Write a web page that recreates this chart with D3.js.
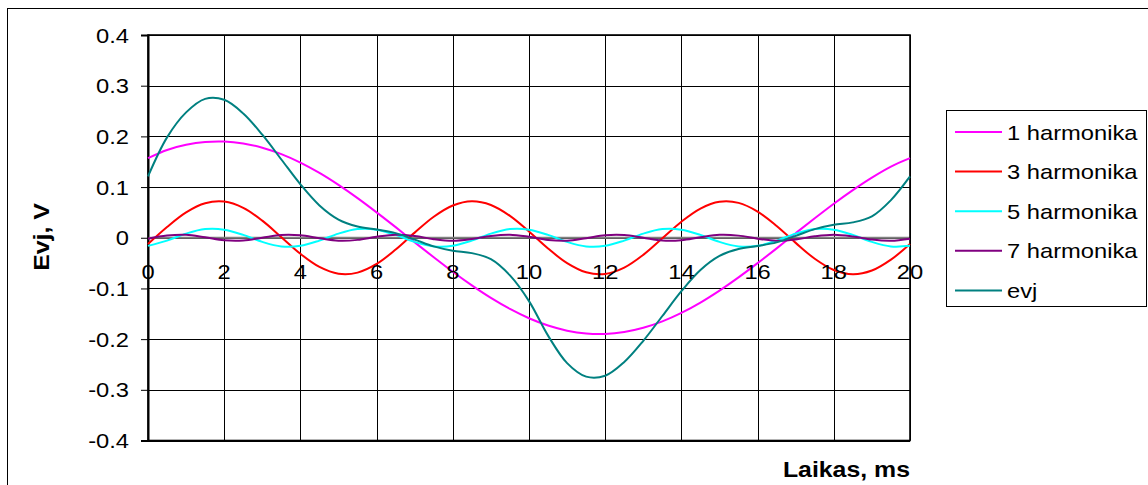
<!DOCTYPE html>
<html>
<head>
<meta charset="utf-8">
<script src="https://cdn.jsdelivr.net/npm/d3@7/dist/d3.min.js"></script>
<style>
  html, body { margin: 0; padding: 0; background: #fff; }
  svg { display: block; }
  text { font-family: "Liberation Sans", Arial, sans-serif; fill: #000; }
</style>
</head>
<body>
<svg id="chart" width="1148" height="485"></svg>
<script>
// Sample times (ms), 0.5 ms step
const times = [0,0.5,1,1.5,2,2.5,3,3.5,4,4.5,5,5.5,6,6.5,7,7.5,8,8.5,9,9.5,10,
  10.5,11,11.5,12,12.5,13,13.5,14,14.5,15,15.5,16,16.5,17,17.5,18,18.5,19,19.5,20];

// Harmonic components (V)
const harm1 = [0.1570,0.1732,0.1833,0.1889,0.1898,0.1860,0.1777,0.1650,0.1483,0.1279,0.1043,
  0.0782,0.0501,0.0209,-0.0090,-0.0385,-0.0672,-0.0941,-0.1188,-0.1405,-0.1588,
  -0.1732,-0.1833,-0.1889,-0.1898,-0.1860,-0.1777,-0.1650,-0.1483,-0.1279,-0.1043,
  -0.0782,-0.0501,-0.0209,0.0090,0.0385,0.0672,0.0941,0.1188,0.1405,0.1570];

const harm3 = [-0.0124,0.0212,0.0501,0.0681,0.0713,0.0589,0.0337,0.0011,-0.0317,-0.0576,-0.0709,
  -0.0688,-0.0517,-0.0233,0.0101,0.0414,0.0636,0.0720,0.0647,0.0432,0.0124,
  -0.0212,-0.0501,-0.0681,-0.0713,-0.0589,-0.0337,-0.0011,0.0317,0.0576,0.0709,
  0.0688,0.0517,0.0233,-0.0101,-0.0414,-0.0636,-0.0720,-0.0647,-0.0432,-0.0124];

const harm5 = [-0.0160,-0.0056,0.0082,0.0171,0.0160,0.0056,-0.0082,-0.0171,
  -0.0160,-0.0056,0.0082,0.0171,0.0160,0.0056,-0.0082,-0.0171,
  -0.0160,-0.0056,0.0082,0.0171,0.0160,0.0056,-0.0082,-0.0171,
  -0.0160,-0.0056,0.0082,0.0171,0.0160,0.0056,-0.0082,-0.0171,
  -0.0160,-0.0056,0.0082,0.0171,0.0160,0.0056,-0.0082,-0.0171,-0.0160];

const harm7 = [-0.0018,0.0043,0.0057,0.0008,-0.0049,-0.0053,0.0001,0.0054,0.0048,-0.0010,-0.0057,
  -0.0042,0.0019,0.0059,0.0035,-0.0028,-0.0060,-0.0026,0.0036,0.0059,0.0018,
  -0.0043,-0.0057,-0.0008,0.0049,0.0053,-0.0001,-0.0054,-0.0048,0.0010,0.0057,
  0.0042,-0.0019,-0.0059,-0.0035,0.0028,0.0060,0.0026,-0.0036,-0.0059,-0.0018];

// Resulting EMF
const evj = [0.1210,0.1980,0.2473,0.2740,0.2722,0.2452,0.2033,0.1544,0.1054,0.0637,0.0359,
  0.0223,0.0163,0.0091,-0.0036,-0.0170,-0.0256,-0.0303,-0.0423,-0.0743,-0.1250,
  -0.1931,-0.2473,-0.2740,-0.2722,-0.2452,-0.2033,-0.1544,-0.1054,-0.0637,-0.0359,
  -0.0223,-0.0163,-0.0091,0.0036,0.0170,0.0256,0.0303,0.0423,0.0743,0.1210];

const seriesNames = ["1 harmonika", "3 harmonika", "5 harmonika", "7 harmonika", "evj"];
const seriesValues = [harm1, harm3, harm5, harm7, evj];
const seriesColors = ["#FF00FF", "#FF0000", "#00FFFF", "#800080", "#008080"];

const xTicks = [0,2,4,6,8,10,12,14,16,18,20];
const xTickLabels = ["0","2","4","6","8","10","12","14","16","18","20"];
const yTicks = [0.4,0.3,0.2,0.1,0,-0.1,-0.2,-0.3,-0.4];
const yTickLabels = ["0.4","0.3","0.2","0.1","0","-0.1","-0.2","-0.3","-0.4"];

const xTitle = "Laikas, ms";
const yTitle = "Evj, V";

// ---- layout ----
const plot = { left: 148, right: 910, top: 35, bottom: 440.5 };
const stretch = 1.13;   // text is drawn slightly wide
const fontSize = 21;

const svg = d3.select("#chart");

const x = d3.scaleLinear().domain([0, 20]).range([plot.left, plot.right]);
const y = d3.scaleLinear().domain([-0.4, 0.4]).range([plot.bottom, plot.top]);

// outer chart frame
svg.append("rect")
  .attr("x", 7.5).attr("y", 8.5)
  .attr("width", 1160).attr("height", 500)
  .attr("fill", "#fff").attr("stroke", "#000").attr("stroke-width", 1);

// grid
const grid = svg.append("g");
grid.selectAll("line.v").data(xTicks).join("line")
  .attr("x1", d => Math.round(x(d)) + 0.5).attr("x2", d => Math.round(x(d)) + 0.5)
  .attr("y1", plot.top).attr("y2", plot.bottom)
  .attr("stroke", "#000").attr("stroke-width", 1);
grid.selectAll("line.h").data(yTicks).join("line")
  .attr("x1", plot.left).attr("x2", plot.right)
  .attr("y1", d => Math.round(y(d)) + 0.5).attr("y2", d => Math.round(y(d)) + 0.5)
  .attr("stroke", "#000").attr("stroke-width", 1);

// y axis with outward ticks
const yAxis = d3.axisLeft(y).tickValues(yTicks).tickSize(7).tickFormat("");
svg.append("g")
  .attr("transform", `translate(${plot.left},0)`)
  .call(yAxis)
  .call(g => g.select(".domain").attr("stroke", "#000").attr("stroke-width", 2))
  .call(g => g.selectAll(".tick line").attr("stroke", "#000"));

// category axis along zero
svg.append("line")
  .attr("x1", plot.left).attr("x2", plot.right)
  .attr("y1", y(0)).attr("y2", y(0))
  .attr("stroke", "#808080").attr("stroke-width", 2);

// plot frame
svg.append("rect")
  .attr("x", plot.left).attr("y", plot.top)
  .attr("width", plot.right - plot.left).attr("height", plot.bottom - plot.top)
  .attr("fill", "none").attr("stroke", "#000").attr("stroke-width", 1.6);

// y tick labels
svg.append("g").selectAll("text").data(yTicks).join("text")
  .attr("transform", d => `translate(129,${y(d)}) scale(${stretch},1)`)
  .attr("dy", "0.36em")
  .attr("text-anchor", "end")
  .attr("font-size", fontSize)
  .text((d, i) => yTickLabels[i]);

// series
const line = d3.line()
  .x((d, i) => x(times[i]))
  .y(d => y(d))
  .curve(d3.curveCatmullRom.alpha(0.5));

svg.append("g").selectAll("path").data(seriesValues).join("path")
  .attr("d", d => line(d))
  .attr("fill", "none")
  .attr("stroke", (d, i) => seriesColors[i])
  .attr("stroke-width", 2)
  .attr("stroke-linejoin", "round");

// x tick labels, just below the zero line
svg.append("g").selectAll("text").data(xTicks).join("text")
  .attr("transform", d => `translate(${x(d)},279) scale(${stretch},1)`)
  .attr("text-anchor", "middle")
  .attr("font-size", fontSize)
  .text((d, i) => xTickLabels[i]);

// axis titles
svg.append("text")
  .attr("transform", `translate(910,477) scale(${stretch},1)`)
  .attr("text-anchor", "end")
  .attr("font-size", 22)
  .attr("font-weight", "bold")
  .text(xTitle);

svg.append("text")
  .attr("transform", `translate(41,237) rotate(-90) scale(${stretch},1)`)
  .attr("text-anchor", "middle")
  .attr("dy", "0.36em")
  .attr("font-size", 22)
  .attr("font-weight", "bold")
  .text(yTitle);

// legend
const legend = { x: 946.5, y: 110.5, w: 200, h: 196, rowStart: 132, rowStep: 39.6 };
const lg = svg.append("g");
lg.append("rect")
  .attr("x", legend.x).attr("y", legend.y)
  .attr("width", legend.w).attr("height", legend.h)
  .attr("fill", "#fff").attr("stroke", "#000").attr("stroke-width", 1);

const rows = lg.selectAll("g.row").data(seriesNames).join("g")
  .attr("transform", (d, i) => `translate(0,${legend.rowStart + i * legend.rowStep})`);
rows.append("line")
  .attr("x1", 955).attr("x2", 1002)
  .attr("y1", 0).attr("y2", 0)
  .attr("stroke", (d, i) => seriesColors[i])
  .attr("stroke-width", 2);
rows.append("text")
  .attr("transform", `translate(1007,0) scale(${stretch},1)`)
  .attr("dy", "0.36em")
  .attr("font-size", fontSize)
  .text(d => d);
</script>
</body>
</html>
